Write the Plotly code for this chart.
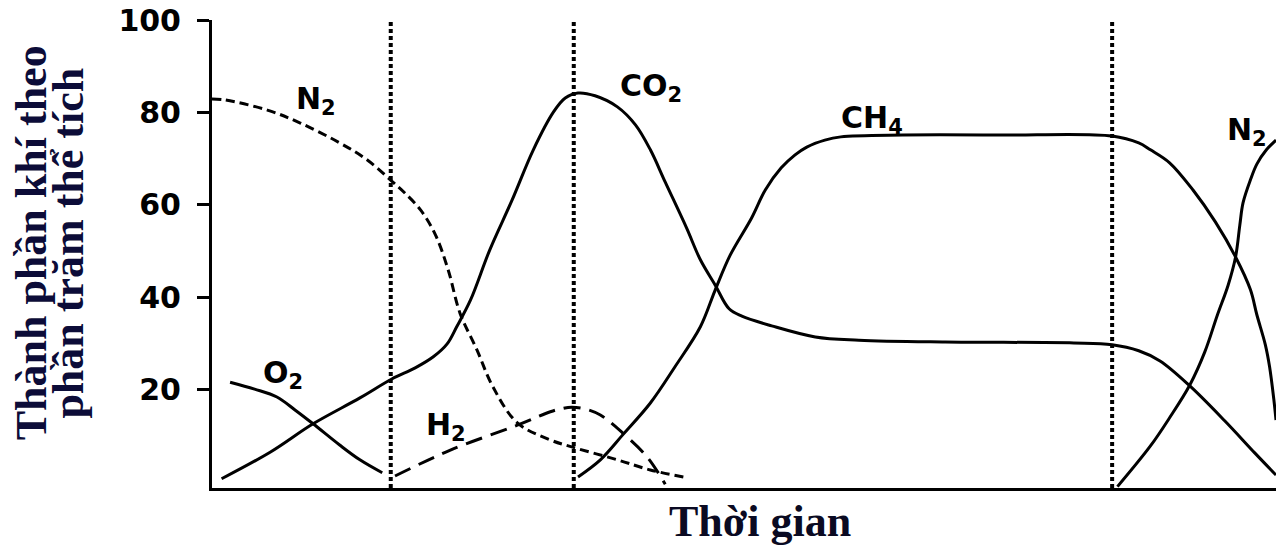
import plotly.graph_objects as go

# ---- data (time in arbitrary units 0-100, composition in % volume) ----
o2_t = [1.7, 4.0, 6.1, 7.8, 9.5, 12.0, 13.9, 16.0]
o2_v = [21.6, 20.1, 18.4, 15.6, 12.6, 8.0, 4.8, 2.0]

co2_t = [0.9, 5.5, 9.5, 13.9, 16.9, 19.1, 20.8, 22.1, 23.0, 24.3, 26.1, 28.2, 30.2, 32.1,
         33.2, 34.4, 36.0, 38.1, 39.8, 41.2, 42.6, 44.6, 45.9, 47.3, 48.6, 49.8, 52.6,
         56.7, 60.8, 68.9, 81.0, 84.6, 87.1, 89.1, 91.9, 95.2, 98.0, 100.0]
co2_v = [0.7, 6.5, 12.6, 18.2, 22.3, 24.7, 27.1, 29.9, 33.6, 39.4, 50.2, 61.0, 71.9, 80.1,
         83.1, 84.2, 83.6, 81.2, 77.3, 71.9, 64.9, 55.0, 48.1, 42.6, 37.5, 35.9, 33.8,
         31.4, 30.7, 30.3, 30.1, 29.7, 28.4, 26.2, 20.8, 13.2, 6.3, 1.5]

ch4_t = [34.4, 36.5, 38.6, 41.2, 43.5, 45.9, 47.3, 48.7, 50.7, 52.0, 53.5, 54.8, 55.9,
         57.6, 59.1, 64.9, 74.1, 84.6, 87.1, 88.2, 90.0, 92.2, 94.3, 96.2, 97.6, 98.2,
         99.0, 99.4, 99.8, 100.0]
ch4_v = [1.1, 4.8, 10.2, 17.1, 24.9, 33.6, 41.6, 49.1, 57.1, 63.2, 68.0, 70.8, 72.5,
         74.0, 74.7, 75.1, 75.1, 74.9, 73.4, 71.9, 69.1, 63.2, 56.3, 48.7, 41.6, 36.2,
         29.7, 24.9, 17.8, 13.4]

n2_late_t = [85.1, 88.2, 90.0, 91.9, 93.3, 94.5, 95.5, 96.2, 96.6, 96.9, 97.6, 98.2, 99.1, 100.0]
n2_late_v = [-1.0, 7.8, 13.9, 21.0, 28.1, 36.2, 42.6, 48.7, 55.6, 60.4, 65.4, 68.8, 71.9, 74.0]

n2_early_t = [0.0, 1.2, 5.2, 8.3, 12.0, 14.6, 17.0, 18.1, 19.6, 21.0, 22.2, 23.3, 24.9,
              26.4, 28.7, 31.8, 33.8, 38.1, 41.2, 44.3]
n2_early_v = [82.9, 82.7, 80.5, 77.7, 73.4, 69.7, 64.9, 62.6, 58.9, 53.5, 45.9, 36.6, 28.6,
              20.6, 12.8, 9.1, 7.6, 4.8, 2.6, 1.1]

h2_t = [17.2, 22.4, 28.7, 31.8, 32.7, 33.8, 35.1, 36.5, 38.6, 40.9, 42.6]
h2_v = [1.3, 6.9, 12.3, 15.2, 15.8, 16.2, 15.8, 14.5, 10.6, 5.4, -0.5]

phase_boundaries = [16.8, 34.0, 84.6]

y_ticks = [20, 40, 60, 80, 100]

gas_labels = ["N<sub>2</sub>", "CO<sub>2</sub>", "CH<sub>4</sub>", "N<sub>2</sub>",
              "O<sub>2</sub>", "H<sub>2</sub>"]
gas_label_x = [9.8, 41.3, 62.0, 97.3, 6.7, 22.0]
gas_label_y = [82.5, 85.4, 78.5, 75.9, 23.3, 12.0]

x_title = "Thời gian"
y_title_lines = ["Thành phần khí theo", "phần trăm thể tích"]

# ---- figure ----
fig = go.Figure()

solid = dict(color="black", width=3)
spl = dict(shape="spline", smoothing=1.0)

fig.add_trace(go.Scatter(x=o2_t, y=o2_v, mode="lines", line=dict(**solid, **spl), name="O2"))
fig.add_trace(go.Scatter(x=co2_t, y=co2_v, mode="lines", line=dict(**solid, **spl), name="CO2"))
fig.add_trace(go.Scatter(x=ch4_t, y=ch4_v, mode="lines", line=dict(**solid, **spl), name="CH4"))
fig.add_trace(go.Scatter(x=n2_late_t, y=n2_late_v, mode="lines", line=dict(**solid, **spl), name="N2"))
fig.add_trace(go.Scatter(x=n2_early_t, y=n2_early_v, mode="lines",
                         line=dict(color="black", width=3, dash="9px,5px", **spl), name="N2 early"))
fig.add_trace(go.Scatter(x=h2_t, y=h2_v, mode="lines",
                         line=dict(color="black", width=3, dash="17px,9px", **spl), name="H2"))

for xb in phase_boundaries:
    fig.add_vline(x=xb, line=dict(color="black", width=4, dash="4px,3px"))

label_font = dict(family="DejaVu Sans", size=30, color="black", weight="bold")
for txt, lx, ly in zip(gas_labels, gas_label_x, gas_label_y):
    fig.add_annotation(x=lx, y=ly, xref="x", yref="y", text=txt, showarrow=False,
                       font=label_font, xanchor="center", yanchor="middle")

title_font = dict(family="Liberation Serif", size=44, color="#0c0c38", weight="bold")
for txt, px in zip(y_title_lines, [-0.170, -0.135]):
    fig.add_annotation(x=px, y=0.523, xref="paper", yref="paper", text=txt, showarrow=False,
                       textangle=-90, font=title_font, xanchor="center", yanchor="middle")

fig.add_annotation(x=0.515, y=-0.072, xref="paper", yref="paper", text=x_title, showarrow=False,
                   font=dict(family="Liberation Serif", size=44, color="#0a0a22", weight="bold"),
                   xanchor="center", yanchor="middle")

fig.update_layout(
    width=1276, height=549,
    margin=dict(l=212, r=0, t=20, b=61, autoexpand=False),
    paper_bgcolor="white", plot_bgcolor="white",
    showlegend=False,
)
fig.update_xaxes(range=[0, 100], showgrid=False, zeroline=False, showticklabels=False,
                 ticks="", showline=True, linecolor="black", linewidth=3, automargin=False)
fig.update_yaxes(range=[-1.3, 100], showgrid=False, zeroline=False, tickvals=y_ticks,
                 ticks="outside", ticklen=12, tickwidth=3, tickcolor="black",
                 showline=True, linecolor="black", linewidth=3, ticklabelstandoff=10,
                 automargin=False, ticklabeloverflow="allow",
                 tickfont=dict(family="DejaVu Sans", size=30, color="black", weight="bold"))

# remove the default 8px page margin so the figure fills the window exactly
fig.write_html("out.html", config={"displayModeBar": False},
               post_script="document.body.style.margin='0';document.body.style.overflow='hidden';")
